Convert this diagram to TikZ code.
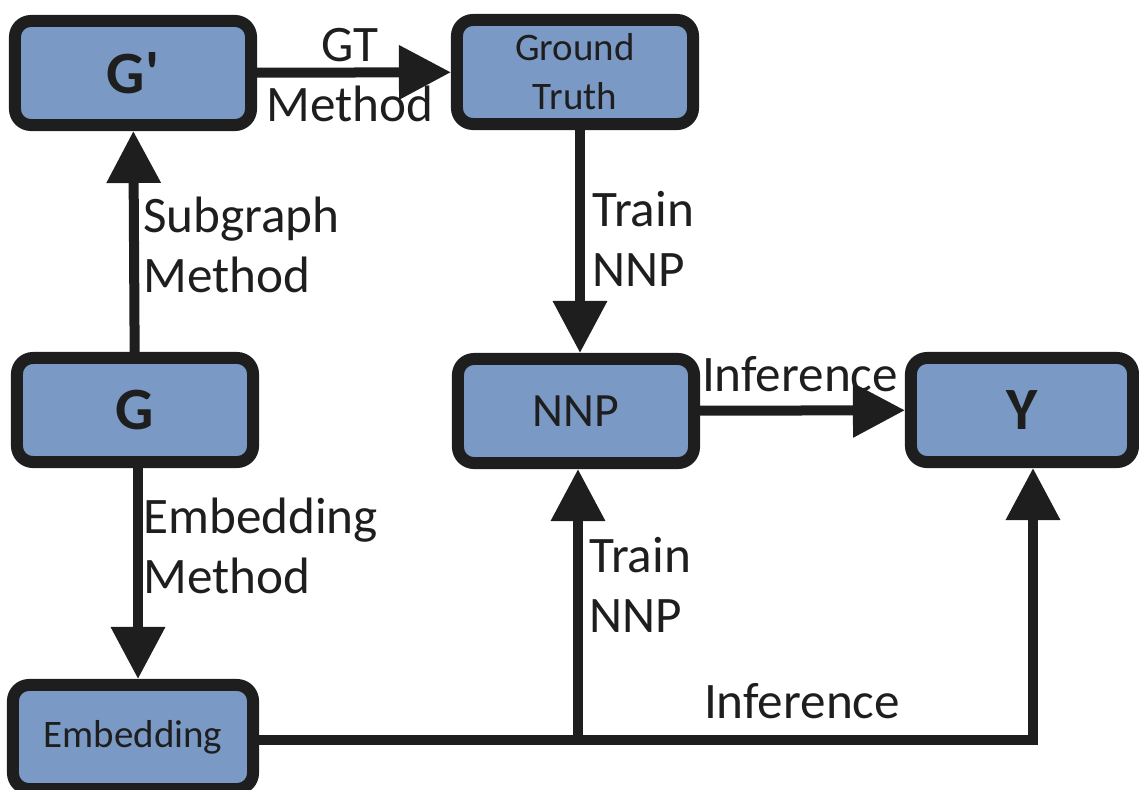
\documentclass[tikz,border=0pt]{standalone}
\usepackage{fontspec}
\setmainfont{Carlito}[Ligatures=TeXOff]
\usepackage{tikz}
\usetikzlibrary{arrows.meta}
\usetikzlibrary{positioning}
\definecolor{boxblue}{RGB}{122, 153, 196}
\definecolor{edgegray}{RGB}{30, 30, 30}

\begin{document}
\begin{tikzpicture}[x=0.025cm, y=-0.025cm,
    box/.style={draw=edgegray, fill=boxblue, line width=0.3cm, rounded corners=0.4cm,
      minimum width=5.9cm, minimum height=2.6cm, inner sep=0pt, align=center,
      text=edgegray},
    flow/.style={draw=edgegray, line width=0.25cm,
      -{Triangle[length=1.3cm, width=1.3cm]}},
    lbl/.style={text=edgegray, align=left, inner sep=0pt,
      font=\fontsize{36.4}{42.7}\selectfont},
    big/.style={font=\fontsize{42.7}{50}\selectfont\bfseries},
    small/.style={font=\fontsize{27.7}{35}\selectfont}]
    \useasboundingbox (0, 0) rectangle (1139, 790);

    % boxes
    \node [box, big] (Gp) at (133, 73) {G'};
    \node [box, small] (GT) at (575, 72) {Ground\\Truth};
    \node [box, big] (G) at (135, 410) {G};
    \node [box, font=\fontsize{34}{40}\selectfont] (NNP) at (576, 411) {NNP};
    \node [box, big, minimum width=5.55cm] (Y) at (1022, 410) {Y};
    \node [box, small, minimum width=6.0cm] (Emb) at (133, 737) {Embedding};

    \coordinate (split) at (578, 740);
    \coordinate (turn) at (1033, 740);

    % connectors
    \draw [flow] (Gp) -- (GT);
    \draw [flow] (G) -- (Gp);
    \draw [flow] (G.south -| 138, 0) -- (Emb.north -| 138, 0);
    \draw [flow] (GT.south -| 580, 0) -- (NNP.north -| 580, 0);
    \draw [flow] (NNP) -- (Y);
    \draw [flow] (Emb.east |- split) -- (turn) -- (turn |- Y.south);
    \draw [flow] (split) -- (split |- NNP.south);

    % labels
    \node [lbl, align=center] (gtm) at (350, 75) {GT\\Method};
    \node [lbl, anchor=west] (subm) at (143, 245) {Subgraph\\Method};
    \node [lbl, anchor=west] (embm) at (143, 546) {Embedding\\Method};
    \node [lbl, anchor=west] (tr1) at (592, 239) {Train\\NNP};
    \node [lbl, anchor=west] (tr2) at (589, 585) {Train\\NNP};
    \node [lbl] (inf1) at (800, 374) {Inference};
    \node [lbl] (inf2) at (802, 701) {Inference};
  \end{tikzpicture}
\end{document}
